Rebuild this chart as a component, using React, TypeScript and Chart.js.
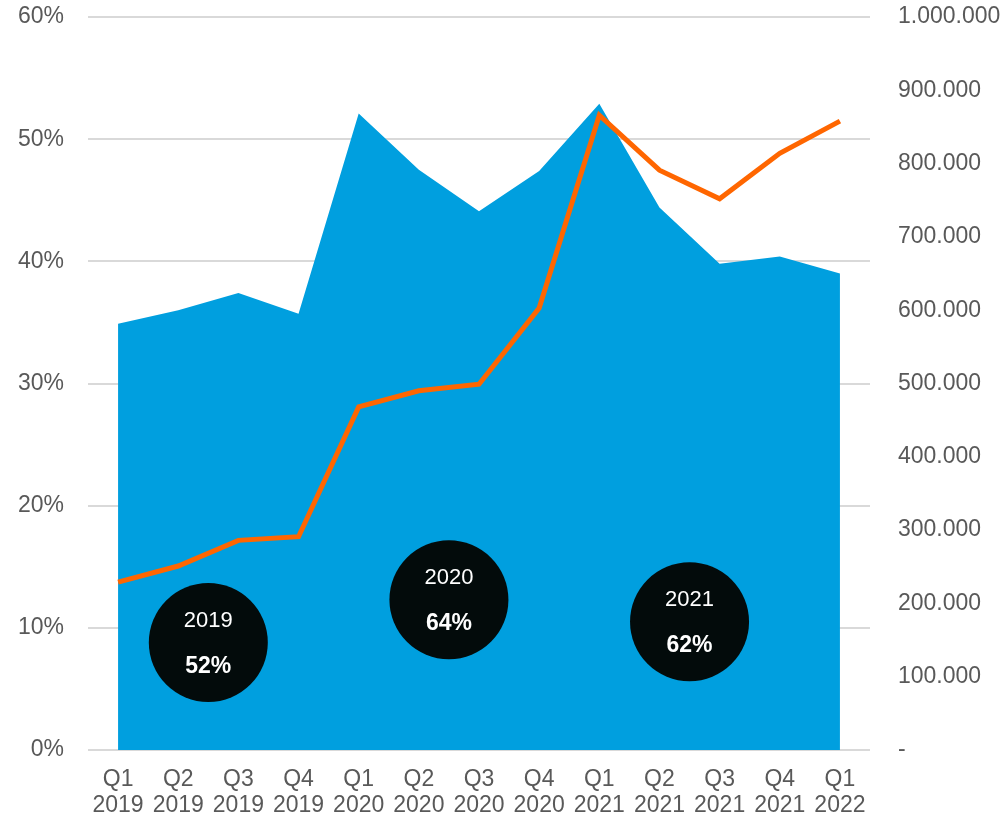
import React, { useEffect, useRef } from "react";
import { Chart, registerables } from "chart.js";

Chart.register(...registerables);

const quarters: string[][] = [
  ["Q1", "2019"], ["Q2", "2019"], ["Q3", "2019"], ["Q4", "2019"],
  ["Q1", "2020"], ["Q2", "2020"], ["Q3", "2020"], ["Q4", "2020"],
  ["Q1", "2021"], ["Q2", "2021"], ["Q3", "2021"], ["Q4", "2021"],
  ["Q1", "2022"],
];

// Share (%) – blue area, left axis
const shareValues = [34.9, 36.0, 37.4, 35.7, 52.1, 47.5, 44.1, 47.4, 52.9, 44.4, 39.8, 40.4, 39.0];

// Volume – orange line, right axis
const volumeValues = [229000, 251000, 286000, 291000, 468000, 490000, 499000, 603000, 866000, 791000, 752000, 814000, 858000];

// Year badges (anchored in data units: category index, left-axis %)
const badgeYears = ["2019", "2020", "2021"];
const badgeShares = ["52%", "64%", "62%"];
const badgeX = [1.5, 5.5, 9.5];
const badgeY = [8.8, 12.3, 10.5];

const FONT = "'Liberation Sans', Arial, sans-serif";
const TEXT = "#595959";

const formatThousands = (v: number) =>
  v === 0 ? "-" : String(Math.round(v)).replace(/\B(?=(\d{3})+(?!\d))/g, ".");

const badgePlugin = {
  id: "badges",
  afterDatasetsDraw(chart: any) {
    const ctx = chart.ctx;
    const xs = chart.scales.x;
    const ys = chart.scales.y;
    ctx.save();
    for (let i = 0; i < badgeYears.length; i++) {
      const cx = xs.getPixelForValue(badgeX[i]);
      const cy = ys.getPixelForValue(badgeY[i]);
      ctx.beginPath();
      ctx.arc(cx, cy, 59.5, 0, Math.PI * 2);
      ctx.fillStyle = "#030B0B";
      ctx.fill();
      ctx.fillStyle = "#FFFFFF";
      ctx.textAlign = "center";
      ctx.textBaseline = "middle";
      ctx.font = `22px ${FONT}`;
      ctx.fillText(badgeYears[i], cx, cy - 22);
      ctx.font = `bold 23px ${FONT}`;
      ctx.fillText(badgeShares[i], cx, cy + 24);
    }
    ctx.restore();
  },
};

export default function App() {
  const canvasRef = useRef<HTMLCanvasElement | null>(null);

  useEffect(() => {
    if (!canvasRef.current) return;
    const chart = new Chart(canvasRef.current, {
      type: "line",
      data: {
        labels: quarters,
        datasets: [
          {
            label: "Volume",
            data: volumeValues,
            yAxisID: "y1",
            borderColor: "#FF6600",
            borderWidth: 5,
            pointRadius: 0,
            fill: false,
            tension: 0,
            order: 0,
          },
          {
            label: "Share",
            data: shareValues,
            yAxisID: "y",
            borderColor: "#009FDF",
            borderWidth: 0,
            backgroundColor: "#009FDF",
            pointRadius: 0,
            fill: "origin",
            tension: 0,
            order: 1,
          },
        ],
      },
      options: {
        responsive: false,
        animation: false,
        layout: { padding: { top: 17, left: 0, right: 0, bottom: 0 } },
        plugins: {
          legend: { display: false },
          tooltip: { enabled: false },
        },
        scales: {
          x: {
            offset: true,
            grid: { display: false, drawTicks: false },
            border: { display: false },
            ticks: {
              color: TEXT,
              font: { family: FONT, size: 23, lineHeight: 1.15 },
              padding: 16,
              maxRotation: 0,
              autoSkip: false,
            },
            afterFit: (s: any) => { s.height = 67; s.paddingLeft = 0; s.paddingRight = 0; },
          },
          y: {
            position: "left",
            min: 0,
            max: 60,
            grid: { color: "#D9D9D9", lineWidth: 2, drawTicks: false },
            border: { display: false },
            ticks: {
              stepSize: 10,
              color: TEXT,
              font: { family: FONT, size: 23 },
              padding: 24,
              callback: (v: any) => `${v}%`,
            },
            afterFit: (s: any) => { s.width = 88; s.paddingTop = 0; s.paddingBottom = 0; },
          },
          y1: {
            position: "right",
            min: 0,
            max: 1000000,
            grid: { display: false, drawTicks: false },
            border: { display: false },
            ticks: {
              stepSize: 100000,
              color: TEXT,
              font: { family: FONT, size: 23 },
              padding: 28,
              callback: (v: any) => formatThousands(Number(v)),
            },
            afterFit: (s: any) => { s.width = 138; s.paddingTop = 0; s.paddingBottom = 0; },
          },
        },
      },
      plugins: [badgePlugin],
    });
    return () => chart.destroy();
  }, []);

  return (
    <div style={{ position: "fixed", left: 0, top: 0, width: 1008, height: 817, background: "#FFFFFF" }}>
      <canvas ref={canvasRef} width={1008} height={817} style={{ width: 1008, height: 817, display: "block" }} />
    </div>
  );
}
